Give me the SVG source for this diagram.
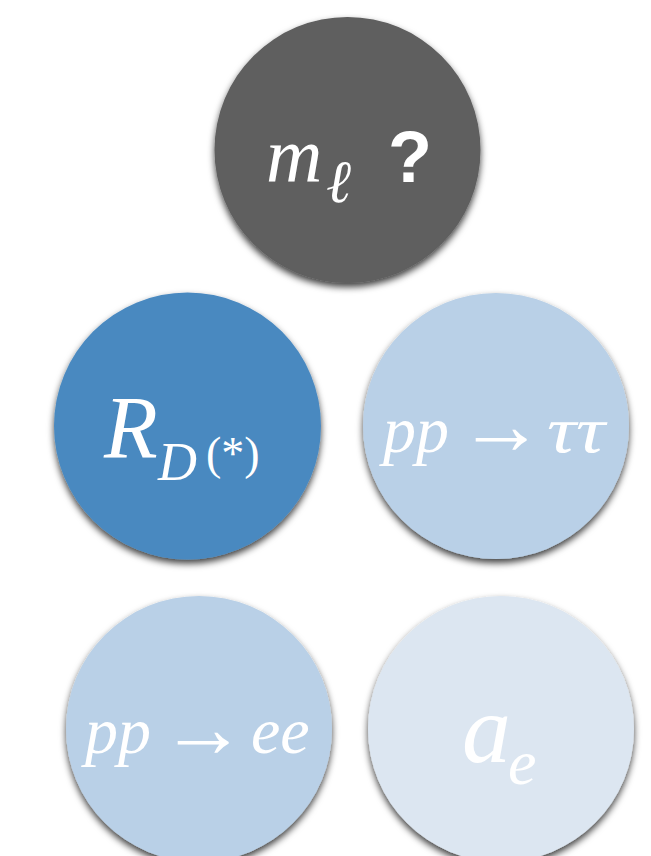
<svg xmlns="http://www.w3.org/2000/svg" width="651" height="856" viewBox="0 0 651 856">
<style>
.lbl{fill:#ffffff;font-family:"Liberation Serif","Times New Roman",serif;font-style:italic}
.up{font-style:normal}
.sans{fill:#ffffff;font-family:"Liberation Sans",Arial,sans-serif;font-weight:bold}
</style>
<defs>
<filter id="sh" x="-20%" y="-20%" width="140%" height="140%">
<feDropShadow dx="0" dy="4" stdDeviation="3.5" flood-color="#000" flood-opacity="0.75"/>
</filter>
</defs>
<rect width="651" height="856" fill="#ffffff"/>
<g id="connectors"></g>
<g id="node-ml">
<circle cx="347.5" cy="150" r="133" fill="#5e5e5e" filter="url(#sh)"/>
<text class="lbl" x="266" y="182" font-size="78">m</text>
<text class="lbl" x="326" y="202" font-size="60">ℓ</text>
<text class="sans" x="388" y="182" font-size="72">?</text>
</g>
<g id="node-rd">
<circle cx="187.5" cy="426" r="133.5" fill="#4a89c0" filter="url(#sh)"/>
<text class="lbl" x="104" y="457" font-size="88">R</text>
<text class="lbl" x="158" y="480" font-size="54">D</text>
<text class="lbl up" x="206" y="469" font-size="46">(*)</text>
</g>
<g id="node-pptautau">
<circle cx="496" cy="426" r="133" fill="#b9d0e7" filter="url(#sh)"/>
<text class="lbl" x="383" y="452" font-size="66">pp</text>
<text class="lbl up" x="458" y="454" font-size="86">→</text>
<text class="lbl" x="547" y="452" font-size="66" textLength="58" lengthAdjust="spacingAndGlyphs">ττ</text>
</g>
<g id="node-ppee">
<circle cx="199" cy="729" r="133" fill="#b9d0e7" filter="url(#sh)"/>
<text class="lbl" x="85" y="753" font-size="66">pp</text>
<text class="lbl up" x="160" y="757" font-size="86">→</text>
<text class="lbl" x="251" y="753" font-size="66">ee</text>
</g>
<g id="node-ae">
<circle cx="501" cy="729" r="133" fill="#dce6f1" filter="url(#sh)"/>
<text class="lbl" x="462" y="762" font-size="98">a</text>
<text class="lbl" x="508" y="784" font-size="64">e</text>
</g>
</svg>
